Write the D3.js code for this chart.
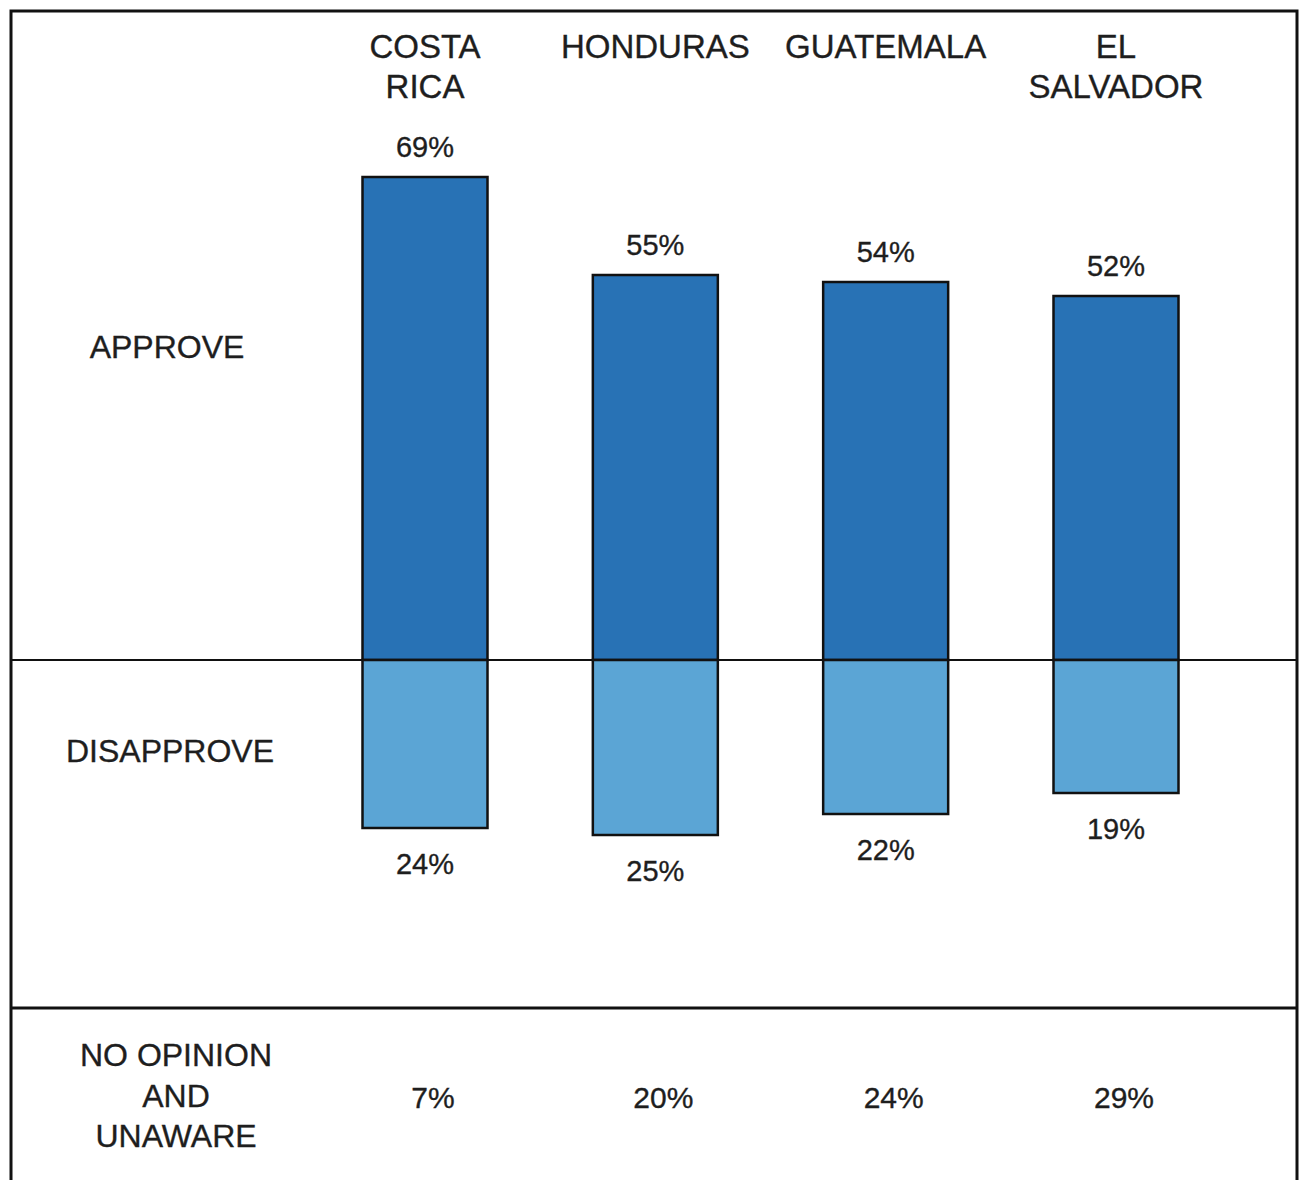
<!DOCTYPE html>
<html>
<head>
<meta charset="utf-8">
<script src="https://cdn.jsdelivr.net/npm/d3@7"></script>
<style>
  body { margin: 0; background: #fff; }
  svg { display: block; }
</style>
</head>
<body>
<div id="chart"></div>
<script>
// data
const countries = ["COSTA RICA", "HONDURAS", "GUATEMALA", "EL SALVADOR"];
const countryLines = [["COSTA", "RICA"], ["HONDURAS"], ["GUATEMALA"], ["EL", "SALVADOR"]];
const approve = [69, 55, 54, 52];
const disapprove = [24, 25, 22, 19];
const noOpinion = [7, 20, 24, 29];
const rowLabels = [["APPROVE"], ["DISAPPROVE"], ["NO OPINION", "AND", "UNAWARE"]];

const width = 1303, height = 1180;
const darkBlue = "#2872b5", lightBlue = "#5ba5d5", ink = "#1e1e1e";
const font = "Liberation Sans, Arial, Helvetica, sans-serif";

const svg = d3.select("#chart").append("svg")
    .attr("width", width)
    .attr("height", height);

const x = d3.scalePoint()
    .domain(countries)
    .range([425, 1116]);
const barW = 125;

const baseY = 660;
const y = d3.scaleLinear()
    .domain([-100, 100])
    .range([baseY + 700, baseY - 700]);

// helper: centred multi-line text
const addText = (sel, cx, cy, lines, size, lh) => {
    const t = sel.append("text")
        .attr("x", cx)
        .attr("y", cy)
        .attr("text-anchor", "middle")
        .attr("font-family", font)
        .attr("font-size", size)
        .attr("fill", ink)
        .attr("stroke", ink)
        .attr("stroke-width", 0.35);
    lines.forEach((ln, j) => {
        t.append("tspan").attr("x", cx).attr("dy", j ? lh : 0).text(ln);
    });
    return t;
};

// outer frame
svg.append("path")
    .attr("d", `M11,${height} L11,11 L1297,11 L1297,${height}`)
    .attr("fill", "none")
    .attr("stroke", "#111")
    .attr("stroke-width", 3);

// divider above the no-opinion row
svg.append("line")
    .attr("x1", 11).attr("x2", 1297)
    .attr("y1", 1008).attr("y2", 1008)
    .attr("stroke", "#111")
    .attr("stroke-width", 3);

// country headers
countries.forEach((c, i) => {
    addText(svg, x(c), 58, countryLines[i], 33, 40);
});

// approve bars
svg.selectAll(".bar-approve")
    .data(approve)
    .enter()
    .append("rect")
    .attr("class", "bar-approve")
    .attr("x", (d, i) => x(countries[i]) - barW / 2)
    .attr("y", d => y(d))
    .attr("width", barW)
    .attr("height", d => y(0) - y(d))
    .attr("fill", darkBlue)
    .attr("stroke", "#111")
    .attr("stroke-width", 2.5);

// disapprove bars
svg.selectAll(".bar-disapprove")
    .data(disapprove)
    .enter()
    .append("rect")
    .attr("class", "bar-disapprove")
    .attr("x", (d, i) => x(countries[i]) - barW / 2)
    .attr("y", y(0))
    .attr("width", barW)
    .attr("height", d => y(-d) - y(0))
    .attr("fill", lightBlue)
    .attr("stroke", "#111")
    .attr("stroke-width", 2.5);

// zero line
svg.append("line")
    .attr("x1", 11).attr("x2", 1297)
    .attr("y1", y(0)).attr("y2", y(0))
    .attr("stroke", "#111")
    .attr("stroke-width", 2);

// value labels
approve.forEach((d, i) => addText(svg, x(countries[i]), y(d) - 20, [d + "%"], 29, 0));
disapprove.forEach((d, i) => addText(svg, x(countries[i]), y(-d) + 46, [d + "%"], 29, 0));
noOpinion.forEach((d, i) => addText(svg, x(countries[i]) + 8, 1108, [d + "%"], 30, 0));

// row labels
const rowPos = [[167, 358], [170, 762], [176, 1066]];
rowLabels.forEach((lines, i) => {
    addText(svg, rowPos[i][0], rowPos[i][1], lines, 32, 40.5);
});
</script>
</body>
</html>
